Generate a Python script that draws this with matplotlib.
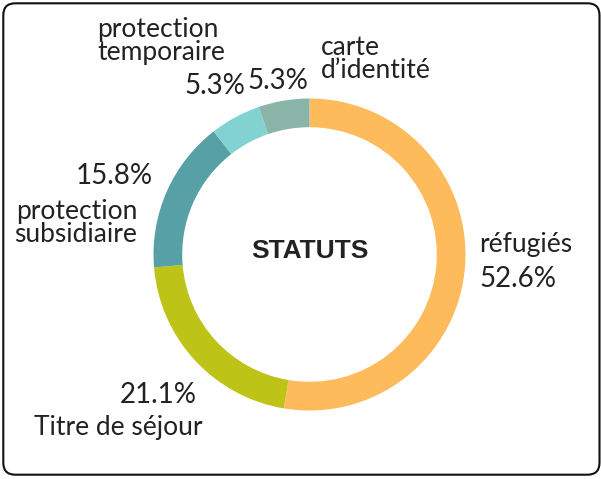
import matplotlib
matplotlib.use("Agg")
import matplotlib.pyplot as plt
from matplotlib.patches import FancyBboxPatch
from matplotlib.transforms import IdentityTransform

# Répartition des statuts
categories = ["réfugiés", "Titre de séjour", "protection\nsubsidiaire",
              "protection\ntemporaire", "carte\nd’identité"]
counts = [10, 4, 3, 1, 1]
colors = ["#FDBB5B", "#BDC317", "#56A0A6", "#83D2D2", "#89B4A7"]

W, H = 601, 479
fig = plt.figure(figsize=(W / 100, H / 100), dpi=100)
fig.patch.set_facecolor("white")

ax = fig.add_axes([0, 0, 1, 1])
ax.pie(counts, colors=colors, startangle=90, counterclock=False,
       radius=1.0, wedgeprops=dict(width=0.184, linewidth=0))
# ring centre at (309.5, 254.5) px, radius 156 px
scale = 156.0
cx, cy = 309.5, 254.5
ax.set_aspect("auto")
ax.set_xlim(-cx / scale, (W - cx) / scale)
ax.set_ylim(-(H - cy) / scale, cy / scale)
ax.axis("off")

total = sum(counts)
pcts = [f"{c / total * 100:.1f}%" for c in counts]

TXT = "#222222"
LABEL_FONT = dict(family="Lato", fontsize=19, color=TXT, linespacing=0.9)
PCT_FONT = dict(family="Lato", fontsize=20, color=TXT)


def put(x, y, s, ha="left", **kw):
    # y is the baseline of the last line, in pixels from the top
    fig.text(x / W, 1 - y / H, s, ha=ha, va="baseline", **kw)


# réfugiés
put(479, 252, categories[0], **LABEL_FONT)
put(479, 287, pcts[0], **PCT_FONT)

# Titre de séjour
put(203, 435, categories[1], ha="right", **LABEL_FONT)
put(197, 403, pcts[1], ha="right", **PCT_FONT)

# protection subsidiaire
put(137, 242, categories[2], ha="right", multialignment="right", **LABEL_FONT)
put(153, 184, pcts[2], ha="right", **PCT_FONT)

# protection temporaire
put(97, 60, categories[3], **LABEL_FONT)
put(245, 94, pcts[3], ha="right", **PCT_FONT)

# carte d'identité
put(321, 78, categories[4], **LABEL_FONT)
put(247, 89, pcts[4], **PCT_FONT)

# centre title
put(310, 258, "STATUTS", ha="center", family="Liberation Sans",
    fontweight="bold", fontsize=19, color="#222222")

# rounded frame
frame = FancyBboxPatch((3.3, H - 474.7), 599.5 - 3.3, 474.7 - 3.3,
                       boxstyle="round,pad=0,rounding_size=12",
                       transform=IdentityTransform(), facecolor="none",
                       edgecolor="#111111", linewidth=1.5)
fig.add_artist(frame)

fig.savefig("out.png", dpi=100, facecolor="white")
